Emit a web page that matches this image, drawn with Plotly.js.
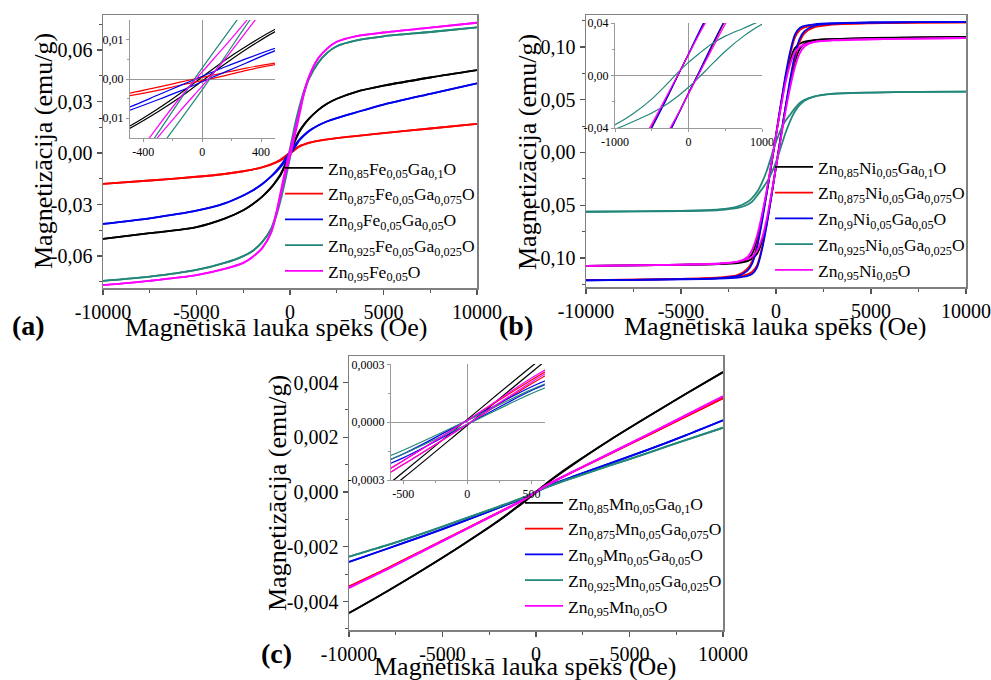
<!DOCTYPE html>
<html><head><meta charset="utf-8">
<script src="https://cdn.plot.ly/plotly-3.0.1.min.js"></script>
<style>html,body{margin:0;padding:0;background:#fff}#chart{width:991px;height:680px}</style>
</head><body><div id="chart"></div>
<script>
// ---------- field values (Oe) ----------
const fieldA = [-10000,-7500,-5000,-3500,-2500,-2000,-1500,-1000,-750,-500,-300,-150,0,150,300,500,750,1000,1500,2000,2500,3500,5000,7500,10000];
const fieldB = [-10000,-7500,-5000,-3000,-2000,-1500,-1250,-1000,-750,-500,-300,-150,0,150,300,500,750,1000,1250,1500,2000,3000,5000,7500,10000];
const fieldC = [-10000,-8000,-6000,-4000,-2000,-1000,-500,0,500,1000,2000,4000,6000,8000,10000];

// ---------- legend names ----------
const namesA = ['Zn<sub>0,85</sub>Fe<sub>0,05</sub>Ga<sub>0,1</sub>O','Zn<sub>0,875</sub>Fe<sub>0,05</sub>Ga<sub>0,075</sub>O','Zn<sub>0,9</sub>Fe<sub>0,05</sub>Ga<sub>0,05</sub>O','Zn<sub>0,925</sub>Fe<sub>0,05</sub>Ga<sub>0,025</sub>O','Zn<sub>0,95</sub>Fe<sub>0,05</sub>O'];
const namesB = ['Zn<sub>0,85</sub>Ni<sub>0,05</sub>Ga<sub>0,1</sub>O','Zn<sub>0,875</sub>Ni<sub>0,05</sub>Ga<sub>0,075</sub>O','Zn<sub>0,9</sub>Ni<sub>0,05</sub>Ga<sub>0,05</sub>O','Zn<sub>0,925</sub>Ni<sub>0,05</sub>Ga<sub>0,025</sub>O','Zn<sub>0,95</sub>Ni<sub>0,05</sub>O'];
const namesC = ['Zn<sub>0,85</sub>Mn<sub>0,05</sub>Ga<sub>0,1</sub>O','Zn<sub>0,875</sub>Mn<sub>0,05</sub>Ga<sub>0,075</sub>O','Zn<sub>0,9</sub>Mn<sub>0,05</sub>Ga<sub>0,05</sub>O','Zn<sub>0,925</sub>Mn<sub>0,05</sub>Ga<sub>0,025</sub>O','Zn<sub>0,95</sub>Mn<sub>0,05</sub>O'];

// ---------- panel (a): Fe, magnetization (emu/g), descending / ascending branch ----------
const aBlackDesc = [-0.0500,-0.0467,-0.0431,-0.0382,-0.0333,-0.0298,-0.0255,-0.0199,-0.0163,-0.0122,-0.0076,-0.0037,0.0005,0.0047,0.0084,0.0128,0.0167,0.0199,0.0250,0.0288,0.0316,0.0355,0.0392,0.0440,0.0483];
const aBlackAsc  = [-0.0500,-0.0467,-0.0431,-0.0382,-0.0333,-0.0298,-0.0255,-0.0201,-0.0167,-0.0128,-0.0084,-0.0047,-0.0005,0.0037,0.0076,0.0122,0.0163,0.0197,0.0250,0.0288,0.0316,0.0355,0.0392,0.0440,0.0483];
const aRedDesc   = [-0.0180,-0.0160,-0.0138,-0.0122,-0.0106,-0.0096,-0.0083,-0.0065,-0.0052,-0.0037,-0.0021,-0.0008,0.0004,0.0016,0.0028,0.0041,0.0051,0.0060,0.0071,0.0080,0.0087,0.0099,0.0116,0.0143,0.0170];
const aRedAsc    = [-0.0180,-0.0160,-0.0138,-0.0122,-0.0106,-0.0096,-0.0083,-0.0067,-0.0056,-0.0043,-0.0029,-0.0016,-0.0004,0.0008,0.0022,0.0037,0.0049,0.0058,0.0071,0.0080,0.0087,0.0099,0.0116,0.0143,0.0170];
const aBlueDesc  = [-0.0413,-0.0380,-0.0336,-0.0293,-0.0247,-0.0218,-0.0182,-0.0134,-0.0105,-0.0073,-0.0041,-0.0017,0.0007,0.0030,0.0052,0.0079,0.0106,0.0128,0.0160,0.0185,0.0204,0.0236,0.0282,0.0345,0.0406];
const aBlueAsc   = [-0.0413,-0.0380,-0.0336,-0.0293,-0.0247,-0.0218,-0.0182,-0.0136,-0.0111,-0.0081,-0.0053,-0.0031,-0.0007,0.0017,0.0041,0.0073,0.0102,0.0126,0.0160,0.0185,0.0204,0.0236,0.0282,0.0345,0.0406];
const aTealDesc  = [-0.0745,-0.0720,-0.0681,-0.0640,-0.0600,-0.0570,-0.0520,-0.0437,-0.0357,-0.0245,-0.0138,-0.0054,0.0028,0.0106,0.0182,0.0270,0.0363,0.0433,0.0525,0.0585,0.0622,0.0655,0.0680,0.0705,0.0732];
const aTealAsc   = [-0.0745,-0.0720,-0.0681,-0.0640,-0.0600,-0.0570,-0.0520,-0.0443,-0.0373,-0.0275,-0.0182,-0.0106,-0.0028,0.0054,0.0138,0.0240,0.0347,0.0427,0.0525,0.0585,0.0622,0.0655,0.0680,0.0705,0.0732];
const aMagDesc   = [-0.0769,-0.0744,-0.0711,-0.0675,-0.0640,-0.0605,-0.0555,-0.0458,-0.0355,-0.0225,-0.0121,-0.0048,0.0018,0.0082,0.0149,0.0240,0.0355,0.0442,0.0550,0.0610,0.0648,0.0680,0.0702,0.0730,0.0759];
const aMagAsc    = [-0.0769,-0.0744,-0.0711,-0.0675,-0.0640,-0.0605,-0.0555,-0.0462,-0.0365,-0.0245,-0.0149,-0.0082,-0.0018,0.0048,0.0121,0.0220,0.0345,0.0438,0.0550,0.0610,0.0648,0.0680,0.0702,0.0730,0.0759];

// ---------- panel (b): Ni ----------
const bBlackDesc = [-0.1075,-0.1070,-0.1063,-0.1055,-0.1040,-0.1010,-0.0960,-0.0830,-0.0620,-0.0390,-0.0175,-0.0005,0.0160,0.0330,0.0490,0.0690,0.0880,0.0990,0.1030,0.1050,0.1065,0.1075,0.1085,0.1090,0.1095];
const bBlackAsc  = [-0.1075,-0.1070,-0.1065,-0.1058,-0.1048,-0.1030,-0.1005,-0.0960,-0.0850,-0.0670,-0.0470,-0.0305,-0.0135,0.0030,0.0200,0.0420,0.0650,0.0860,0.0980,0.1030,0.1062,0.1075,0.1083,0.1090,0.1095];
const bRedDesc   = [-0.1210,-0.1205,-0.1198,-0.1185,-0.1160,-0.1100,-0.1030,-0.0880,-0.0650,-0.0390,-0.0175,-0.0005,0.0160,0.0330,0.0500,0.0710,0.0930,0.1090,0.1160,0.1185,0.1205,0.1218,0.1226,0.1230,0.1233];
const bRedAsc    = [-0.1210,-0.1205,-0.1200,-0.1190,-0.1175,-0.1155,-0.1130,-0.1070,-0.0910,-0.0690,-0.0475,-0.0305,-0.0135,0.0030,0.0200,0.0420,0.0680,0.0900,0.1050,0.1130,0.1185,0.1212,0.1225,0.1230,0.1233];
const bBlueDesc  = [-0.1212,-0.1207,-0.1200,-0.1190,-0.1170,-0.1120,-0.1050,-0.0900,-0.0670,-0.0400,-0.0180,-0.0005,0.0165,0.0340,0.0510,0.0730,0.0960,0.1120,0.1180,0.1200,0.1215,0.1225,0.1232,0.1235,0.1237];
const bBlueAsc   = [-0.1212,-0.1207,-0.1202,-0.1195,-0.1185,-0.1170,-0.1150,-0.1090,-0.0930,-0.0700,-0.0480,-0.0310,-0.0135,0.0035,0.0210,0.0430,0.0700,0.0930,0.1080,0.1150,0.1200,0.1222,0.1232,0.1235,0.1237];
const bTealDesc  = [-0.0562,-0.0558,-0.0553,-0.0540,-0.0510,-0.0470,-0.0430,-0.0375,-0.0290,-0.0180,-0.0070,0.0020,0.0100,0.0170,0.0235,0.0300,0.0360,0.0420,0.0470,0.0500,0.0530,0.0555,0.0568,0.0574,0.0577];
const bTealAsc   = [-0.0562,-0.0558,-0.0555,-0.0545,-0.0525,-0.0495,-0.0465,-0.0410,-0.0350,-0.0285,-0.0220,-0.0160,-0.0090,-0.0010,0.0075,0.0185,0.0300,0.0390,0.0450,0.0490,0.0530,0.0558,0.0568,0.0574,0.0577];
const bMagDesc   = [-0.1075,-0.1070,-0.1063,-0.1055,-0.1035,-0.0990,-0.0920,-0.0790,-0.0600,-0.0370,-0.0160,0.0000,0.0160,0.0320,0.0470,0.0660,0.0840,0.0950,0.1000,0.1025,0.1048,0.1062,0.1073,0.1080,0.1085];
const bMagAsc    = [-0.1075,-0.1070,-0.1063,-0.1052,-0.1035,-0.1010,-0.0985,-0.0930,-0.0820,-0.0640,-0.0450,-0.0300,-0.0140,0.0020,0.0180,0.0390,0.0620,0.0810,0.0940,0.1005,0.1045,0.1065,0.1073,0.1080,0.1085];

// ---------- panel (c): Mn ----------
const cBlackDesc = [-0.00442,-0.00364,-0.00282,-0.00196,-0.00104,-0.00053,-0.00026,0.000015,0.00029,0.00055,0.00103,0.00192,0.00276,0.00358,0.00438];
const cBlackAsc  = [-0.00442,-0.00364,-0.00282,-0.00196,-0.00106,-0.00055,-0.00029,-0.000015,0.00026,0.00053,0.00101,0.00192,0.00276,0.00358,0.00438];
const cRedDesc   = [-0.00345,-0.00280,-0.00212,-0.00143,-0.00074,-0.00039,-0.00020,0.00001,0.00022,0.00041,0.00075,0.00141,0.00208,0.00275,0.00343];
const cRedAsc    = [-0.00345,-0.00280,-0.00212,-0.00143,-0.00075,-0.00041,-0.00022,-0.00001,0.00020,0.00039,0.00074,0.00141,0.00208,0.00275,0.00343];
const cBlueDesc  = [-0.00255,-0.00208,-0.00160,-0.00110,-0.00057,-0.00030,-0.000165,0.00001,0.000185,0.00032,0.00057,0.00106,0.00155,0.00207,0.00262];
const cBlueAsc   = [-0.00255,-0.00208,-0.00160,-0.00110,-0.00058,-0.00032,-0.000185,-0.00001,0.000165,0.00030,0.00056,0.00106,0.00155,0.00207,0.00262];
const cTealDesc  = [-0.00236,-0.00195,-0.00150,-0.00102,-0.00053,-0.00028,-0.000145,0.00001,0.000170,0.00030,0.00053,0.00098,0.00143,0.00190,0.00235];
const cTealAsc   = [-0.00236,-0.00195,-0.00150,-0.00102,-0.00054,-0.00030,-0.000165,-0.00001,0.000150,0.00028,0.00052,0.00098,0.00143,0.00190,0.00235];
const cMagDesc   = [-0.00350,-0.00284,-0.00214,-0.00145,-0.00075,-0.00040,-0.00020,0.00001,0.00023,0.00042,0.00076,0.00143,0.00211,0.00280,0.00350];
const cMagAsc    = [-0.00350,-0.00284,-0.00214,-0.00145,-0.00076,-0.00042,-0.00022,-0.00001,0.00021,0.00040,0.00075,0.00143,0.00211,0.00280,0.00350];

// ---------- tick labels ----------
const xMainTicks = [-10000,-5000,0,5000,10000];
const xMainText  = ['-10000','-5000','0','5000','10000'];
const xMainMinor = [-7500,-2500,2500,7500];
const yATicks = [-0.06,-0.03,0,0.03,0.06];
const yAText  = ['-0,06','-0,03','0,00','0,03','0,06'];
const yAMinor = [-0.075,-0.045,-0.015,0.015,0.045,0.075];
const yBTicks = [-0.10,-0.05,0,0.05,0.10];
const yBText  = ['-0,10','-0,05','0,00','0,05','0,10'];
const yBMinor = [-0.125,-0.075,-0.025,0.025,0.075,0.125];
const yCTicks = [-0.004,-0.002,0,0.002,0.004];
const yCText  = ['-0,004','-0,002','0,000','0,002','0,004'];
const yCMinor = [-0.005,-0.003,-0.001,0.001,0.003];
const xInATicks = [-400,0,400];   const xInAText = ['-400','0','400'];   const xInAMinor = [-200,200];
const yInATicks = [-0.01,0,0.01]; const yInAText = ['-0,01','0,00','0,01']; const yInAMinor = [-0.005,0.005];
const xInBTicks = [-1000,0,1000]; const xInBText = ['-1000','0','1000']; const xInBMinor = [-500,500];
const yInBTicks = [-0.04,0,0.04]; const yInBText = ['-0,04','0,00','0,04']; const yInBMinor = [-0.02,0.02];
const xInCTicks = [-500,0,500];   const xInCText = ['-500','0','500'];   const xInCMinor = [-250,250];
const yInCTicks = [-0.0003,0,0.0003]; const yInCText = ['-0,0003','0,0000','0,0003']; const yInCMinor = [-0.00015,0.00015];

const colors = ['#000000','#ff0000','#0000ee','#22877a','#ff00ff'];
const F = 'Liberation Serif, Times New Roman, serif';

const panels = [
  {field: fieldA, names: namesA, desc: [aBlackDesc,aRedDesc,aBlueDesc,aTealDesc,aMagDesc], asc: [aBlackAsc,aRedAsc,aBlueAsc,aTealAsc,aMagAsc], main: ['x','y'], inset: ['x4','y4'], legend: 'legend'},
  {field: fieldB, names: namesB, desc: [bBlackDesc,bRedDesc,bBlueDesc,bTealDesc,bMagDesc], asc: [bBlackAsc,bRedAsc,bBlueAsc,bTealAsc,bMagAsc], main: ['x2','y2'], inset: ['x5','y5'], legend: 'legend2'},
  {field: fieldC, names: namesC, desc: [cBlackDesc,cRedDesc,cBlueDesc,cTealDesc,cMagDesc], asc: [cBlackAsc,cRedAsc,cBlueAsc,cTealAsc,cMagAsc], main: ['x3','y3'], inset: ['x6','y6'], legend: 'legend3'}
];

const traces = [];
panels.forEach(p => {
  for (let i = 0; i < 5; i++) {
    [['main', 1.8], ['inset', 1.2]].forEach(([where, w]) => {
      [p.desc[i], p.asc[i]].forEach((ys, k) => {
        traces.push({
          type: 'scatter', mode: 'lines', x: p.field, y: ys,
          xaxis: p[where][0], yaxis: p[where][1],
          name: p.names[i], legend: p.legend,
          showlegend: where === 'main' && k === 0,
          line: {color: colors[i], width: w, shape: 'spline', smoothing: 0.8},
          hoverinfo: 'skip'
        });
      });
    });
  }
});

function px(x) { return x / 991; }
function py(y) { return 1 - y / 680; }

function mainAxis(dom, anchor, range, tv, tt, mv) {
  return {domain: dom, anchor: anchor, range: range, tickmode: 'array', tickvals: tv, ticktext: tt,
    showline: true, mirror: true, linecolor: '#808080', linewidth: 1.5,
    ticks: 'outside', ticklen: 5, tickwidth: 1.2, tickcolor: '#555',
    minor: {tickmode: 'array', tickvals: mv, ticks: 'outside', ticklen: 3, tickwidth: 1, tickcolor: '#555'},
    showgrid: false, zeroline: false, fixedrange: true,
    tickfont: {family: F, size: 20, color: '#000'}};
}
function insetAxis(dom, anchor, range, tv, tt, mv) {
  return {domain: dom, anchor: anchor, range: range, tickmode: 'array', tickvals: tv, ticktext: tt,
    showline: true, mirror: false, linecolor: '#999', linewidth: 1,
    ticks: 'outside', ticklen: 3, tickwidth: 1, tickcolor: '#999',
    minor: {tickmode: 'array', tickvals: mv, ticks: 'outside', ticklen: 2, tickwidth: 1, tickcolor: '#999'},
    showgrid: false, zeroline: true, zerolinecolor: '#999', zerolinewidth: 1, fixedrange: true,
    tickfont: {family: F, size: 12, color: '#000'}};
}

const legendBase = {xanchor: 'left', yanchor: 'top', bgcolor: 'rgba(0,0,0,0)', borderwidth: 0, itemwidth: 38,
  font: {family: F, size: 17.5, color: '#000'}, tracegroupgap: 0, itemclick: false, itemdoubleclick: false};

const ann = (text, x, y, size, bold, angle) => ({text: bold ? '<b>' + text + '</b>' : text, x: px(x), y: py(y), xref: 'paper', yref: 'paper',
  xanchor: 'center', yanchor: 'middle', showarrow: false, textangle: angle || 0, font: {family: F, size: size, color: '#000'}});

const layout = {
  width: 991, height: 680, margin: {l: 0, r: 0, t: 0, b: 0},
  paper_bgcolor: '#fff', plot_bgcolor: 'rgba(0,0,0,0)', showlegend: true,
  font: {family: F, color: '#000'},
  xaxis:  mainAxis([px(103), px(477)], 'y',  [-10000, 10000], xMainTicks, xMainText, xMainMinor),
  yaxis:  mainAxis([py(288), py(15)],  'x',  [-0.0786, 0.0804], yATicks, yAText, yAMinor),
  xaxis2: mainAxis([px(586), px(966)], 'y2', [-10000, 10000], xMainTicks, xMainText, xMainMinor),
  yaxis2: mainAxis([py(287), py(15)],  'x2', [-0.1275, 0.1303], yBTicks, yBText, yBMinor),
  xaxis3: mainAxis([px(349), px(723)], 'y3', [-10000, 10000], xMainTicks, xMainText, xMainMinor),
  yaxis3: mainAxis([py(630), py(356)], 'x3', [-0.00504, 0.00497], yCTicks, yCText, yCMinor),
  xaxis4: insetAxis([px(130), px(275)], 'y4', [-490, 495], xInATicks, xInAText, xInAMinor),
  yaxis4: insetAxis([py(138), py(20)],  'x4', [-0.0151, 0.0151], yInATicks, yInAText, yInAMinor),
  xaxis5: insetAxis([px(615), px(762)], 'y5', [-1000, 1000], xInBTicks, xInBText, xInBMinor),
  yaxis5: insetAxis([py(128), py(23)],  'x5', [-0.04, 0.04], yInBTicks, yInBText, yInBMinor),
  xaxis6: insetAxis([px(391), px(545)], 'y6', [-595, 605], xInCTicks, xInCText, xInCMinor),
  yaxis6: insetAxis([py(480), py(364)], 'x6', [-0.0003, 0.000303], yInCTicks, yInCText, yInCMinor),
  legend:  Object.assign({}, legendBase, {x: px(280), y: py(150)}),
  legend2: Object.assign({}, legendBase, {x: px(770), y: py(149)}),
  legend3: Object.assign({}, legendBase, {x: px(520), y: py(485)}),
  annotations: [
    ann('Magnētiskā lauka spēks (Oe)', 276, 327, 26),
    ann('Magnētiskā lauka spēks (Oe)', 775, 326, 26),
    ann('Magnētiskā lauka spēks (Oe)', 525, 666, 26),
    ann('Magnetizācija (emu/g)', 43, 151, 26, false, -90),
    ann('Magnetizācija (emu/g)', 527, 152, 26, false, -90),
    ann('Magnetizācija (emu/g)', 277, 493, 26, false, -90),
    ann('(a)', 28, 325, 28, true),
    ann('(b)', 516, 325, 28, true),
    ann('(c)', 276, 653, 28, true)
  ]
};

Plotly.newPlot('chart', traces, layout, {staticPlot: true, displayModeBar: false});
</script></body></html>
